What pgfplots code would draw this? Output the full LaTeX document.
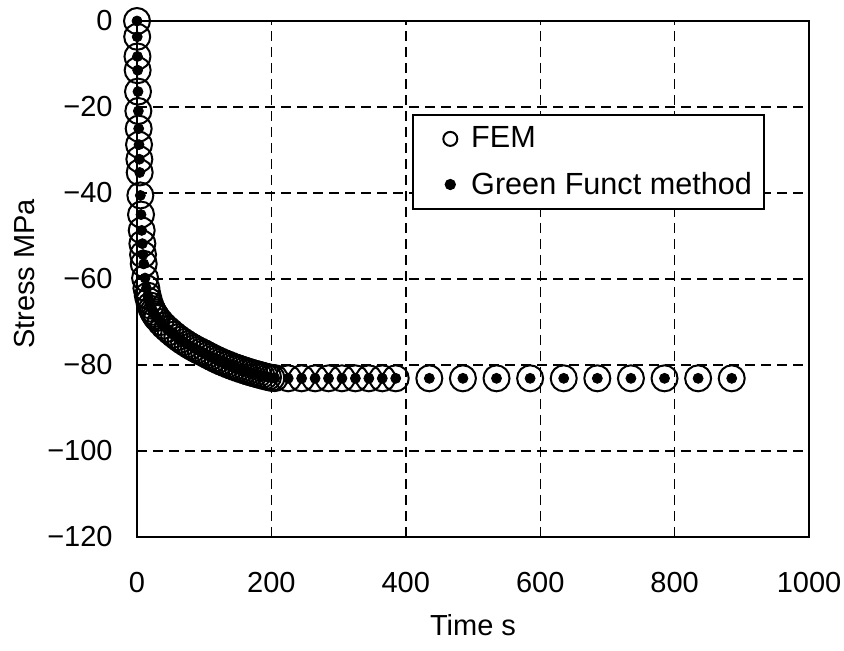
\documentclass[border=0pt]{standalone}
\usepackage{fontspec}
\setmainfont{Liberation Sans}
\usepackage{pgfplots}
\pgfplotsset{compat=1.18}
\usepackage{pgfplotstable}

\pgfplotstableread{
t y
0 0
0.3 -3.67
0.7 -8.25
1 -11.45
1.5 -16.42
2 -20.93
2.5 -25.03
3 -28.76
3.5 -32.15
4 -35.23
5 -40.57
6 -45.02
7 -48.70
8 -51.78
9 -54.33
10 -56.48
12 -59.78
14 -62.14
16 -63.87
18 -65.15
20 -66.17
22 -66.97
24 -67.61
26 -68.16
28 -68.65
30 -69.07
35 -70.02
40 -70.87
45 -71.60
50 -72.29
55 -72.94
60 -73.55
65 -74.13
70 -74.66
75 -75.17
80 -75.64
85 -76.09
90 -76.51
95 -76.90
100 -77.27
105 -77.70
110 -78.10
115 -78.50
120 -78.87
125 -79.22
130 -79.55
135 -79.87
140 -80.18
145 -80.48
150 -80.75
155 -81.02
160 -81.27
165 -81.53
170 -81.76
175 -81.99
180 -82.20
185 -82.41
190 -82.62
195 -82.81
200 -83.00
205 -83.05
225 -83.10
245 -83.10
265 -83.10
285 -83.10
305 -83.10
325 -83.10
345 -83.10
365 -83.10
385 -83.10
435 -83.10
485 -83.10
535 -83.10
585 -83.10
635 -83.10
685 -83.10
735 -83.10
785 -83.10
835 -83.10
885 -83.10
}\femdata

\pgfplotstableread{
t y
0 0
0.3 -3.67
0.7 -8.25
1 -11.45
1.5 -16.42
2 -20.93
2.5 -25.03
3 -28.76
3.5 -32.15
4 -35.23
5 -40.57
6 -45.02
7 -48.70
8 -51.78
9 -54.33
10 -56.48
12 -59.78
14 -62.14
16 -63.87
18 -65.15
20 -66.17
22 -66.97
24 -67.61
26 -68.16
28 -68.65
30 -69.07
35 -70.02
40 -70.87
45 -71.60
50 -72.29
55 -72.94
60 -73.55
65 -74.13
70 -74.66
75 -75.17
80 -75.64
85 -76.09
90 -76.51
95 -76.90
100 -77.27
105 -77.70
110 -78.10
115 -78.50
120 -78.87
125 -79.22
130 -79.55
135 -79.87
140 -80.18
145 -80.48
150 -80.75
155 -81.02
160 -81.27
165 -81.53
170 -81.76
175 -81.99
180 -82.20
185 -82.41
190 -82.62
195 -82.81
200 -83.00
205 -83.05
225 -83.10
245 -83.10
265 -83.10
285 -83.10
305 -83.10
325 -83.10
345 -83.10
365 -83.10
385 -83.10
435 -83.10
485 -83.10
535 -83.10
585 -83.10
635 -83.10
685 -83.10
735 -83.10
785 -83.10
835 -83.10
885 -83.10
}\greendata

\begin{document}
\begin{tikzpicture}
\useasboundingbox (-68.5pt,-57pt) rectangle (353.5pt,268.5pt);
\begin{axis}[
  at={(0pt,0pt)}, anchor=south west,
  scale only axis,
  width=336pt, height=258pt,
  xmin=0, xmax=1000, ymin=-120, ymax=0,
  xtick={0,200,400,600,800,1000},
  xticklabels={0,200,400,600,800,1000},
  ytick={-120,-100,-80,-60,-40,-20,0},
  yticklabels={−120,−100,−80,−60,−40,−20,0},
  major tick length=0pt,
  grid=major,
  major grid style={black, line width=0.7pt, dash pattern=on 5pt off 3pt},
  axis line style={black, line width=1pt},
  clip=false,
  /pgf/number format/assume math mode=true,
  ticklabel style={font=\fontsize{14.5}{17}\selectfont, inner sep=0pt},
  xticklabel style={anchor=center, yshift=-23pt},
  yticklabel style={anchor=east, xshift=-12pt},
  xlabel={Time s},
  ylabel={Stress MPa},
  every axis x label/.style={at={(axis description cs:0.5,-0.1705)}, anchor=center, font=\fontsize{14.5}{17}\selectfont},
  every axis y label/.style={at={(axis description cs:-0.1667,0.51)}, anchor=center, rotate=90, font=\fontsize{14.5}{17}\selectfont},
  legend style={at={(0.409,0.82)}, anchor=north west, draw=black, line width=1pt,
    fill=white, font=\fontsize{15.3}{18}\selectfont, row sep=6.5pt,
    inner xsep=4pt, inner ysep=4pt},
  legend cell align=left,
  legend image code/.code={\path (0cm,0cm) (0.78cm,0cm); \draw[#1] plot coordinates {(0.5cm,0cm)};},
]
\addplot[only marks, mark=o, mark size=6.5pt, mark options={line width=1pt, black}, forget plot] table[x=t,y=y]{\femdata};
\addplot[only marks, mark=*, mark size=2.5pt, mark options={black}, forget plot] table[x=t,y=y]{\greendata};
\addlegendimage{only marks, mark=o, mark size=3.5pt, mark options={line width=1pt, black}}
\addlegendentry{FEM}
\addlegendimage{only marks, mark=*, mark size=2.3pt, mark options={black}}
\addlegendentry{Green Funct method\hspace{4pt}}
\end{axis}
\end{tikzpicture}
\end{document}
